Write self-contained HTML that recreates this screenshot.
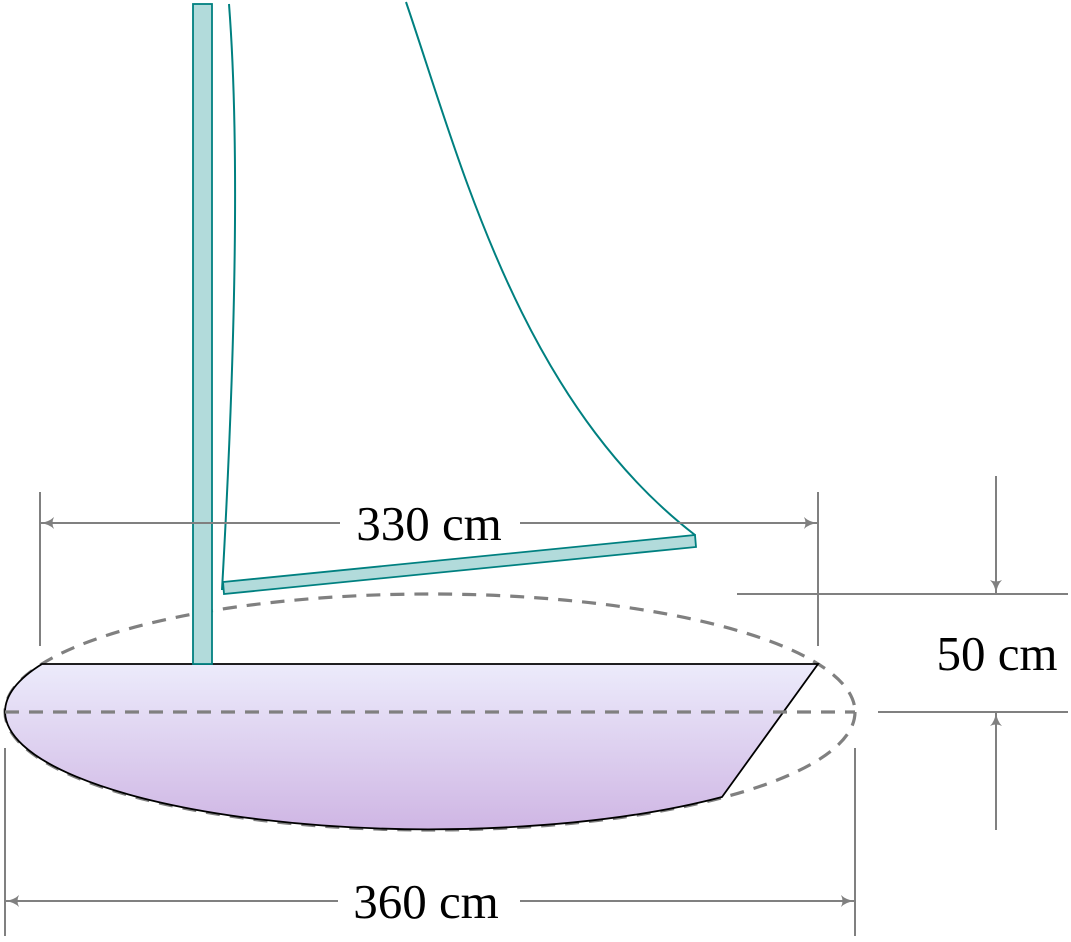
<!DOCTYPE html>
<html><head><meta charset="utf-8"><style>
html,body{margin:0;padding:0;background:#fff}
svg{display:block}
text{font-family:"Liberation Serif",serif;font-size:49px;fill:#000}
</style></head><body>
<svg width="1071" height="942" viewBox="0 0 1071 942">
<defs>
<linearGradient id="hg" x1="0" y1="0" x2="0" y2="1">
<stop offset="0" stop-color="#ecebfb"/><stop offset="1" stop-color="#cfb6e4"/>
</linearGradient>
<marker id="ar" viewBox="0 0 14 12" refX="13" refY="6" markerWidth="14" markerHeight="12" markerUnits="userSpaceOnUse" orient="auto">
<path d="M0,0 Q5,5 14,6 Q5,7 0,12 Q3,6 0,0 Z" fill="#808080"/>
</marker>
</defs>
<ellipse cx="430" cy="712" rx="425" ry="118" fill="none" stroke="#808080" stroke-width="3.2" stroke-dasharray="14,10"/>
<path d="M42,664 L818,664 L722,797 A425,118 0 0 1 5,712 A425,118 0 0 1 42,664 Z" fill="url(#hg)" stroke="#000" stroke-width="1.8"/>
<line x1="5" y1="712" x2="855" y2="712" stroke="#808080" stroke-width="3.2" stroke-dasharray="14,10"/>
<rect x="193" y="4" width="19" height="660" fill="#b2dbdb" stroke="#008080" stroke-width="1.8"/>
<path d="M229,4 Q244,200 222,590 M406,2 C460,160 520,400 695,535" fill="none" stroke="#008080" stroke-width="2"/>
<path d="M223,582 L695,535 L696,547 L224,594 Z" fill="#b2dbdb" stroke="#008080" stroke-width="1.8"/>
<g stroke="#808080" stroke-width="2" fill="none">
<line x1="40" y1="492" x2="40" y2="646"/><line x1="818" y1="492" x2="818" y2="646"/>
<line x1="340" y1="523" x2="41" y2="523" marker-end="url(#ar)"/>
<line x1="520" y1="523" x2="817" y2="523" marker-end="url(#ar)"/>
<line x1="5" y1="748" x2="5" y2="936"/><line x1="855" y1="748" x2="855" y2="936"/>
<line x1="338" y1="901" x2="6" y2="901" marker-end="url(#ar)"/>
<line x1="520" y1="901" x2="854" y2="901" marker-end="url(#ar)"/>
<line x1="737" y1="594" x2="1068" y2="594"/><line x1="878" y1="712" x2="1068" y2="712"/>
<line x1="996" y1="476" x2="996" y2="593" marker-end="url(#ar)"/>
<line x1="996" y1="830" x2="996" y2="713" marker-end="url(#ar)"/>
</g>
<text x="429" y="540" text-anchor="middle">330 cm</text>
<text x="426" y="918" text-anchor="middle">360 cm</text>
<text x="997" y="670" text-anchor="middle">50 cm</text>
</svg>
</body></html>
